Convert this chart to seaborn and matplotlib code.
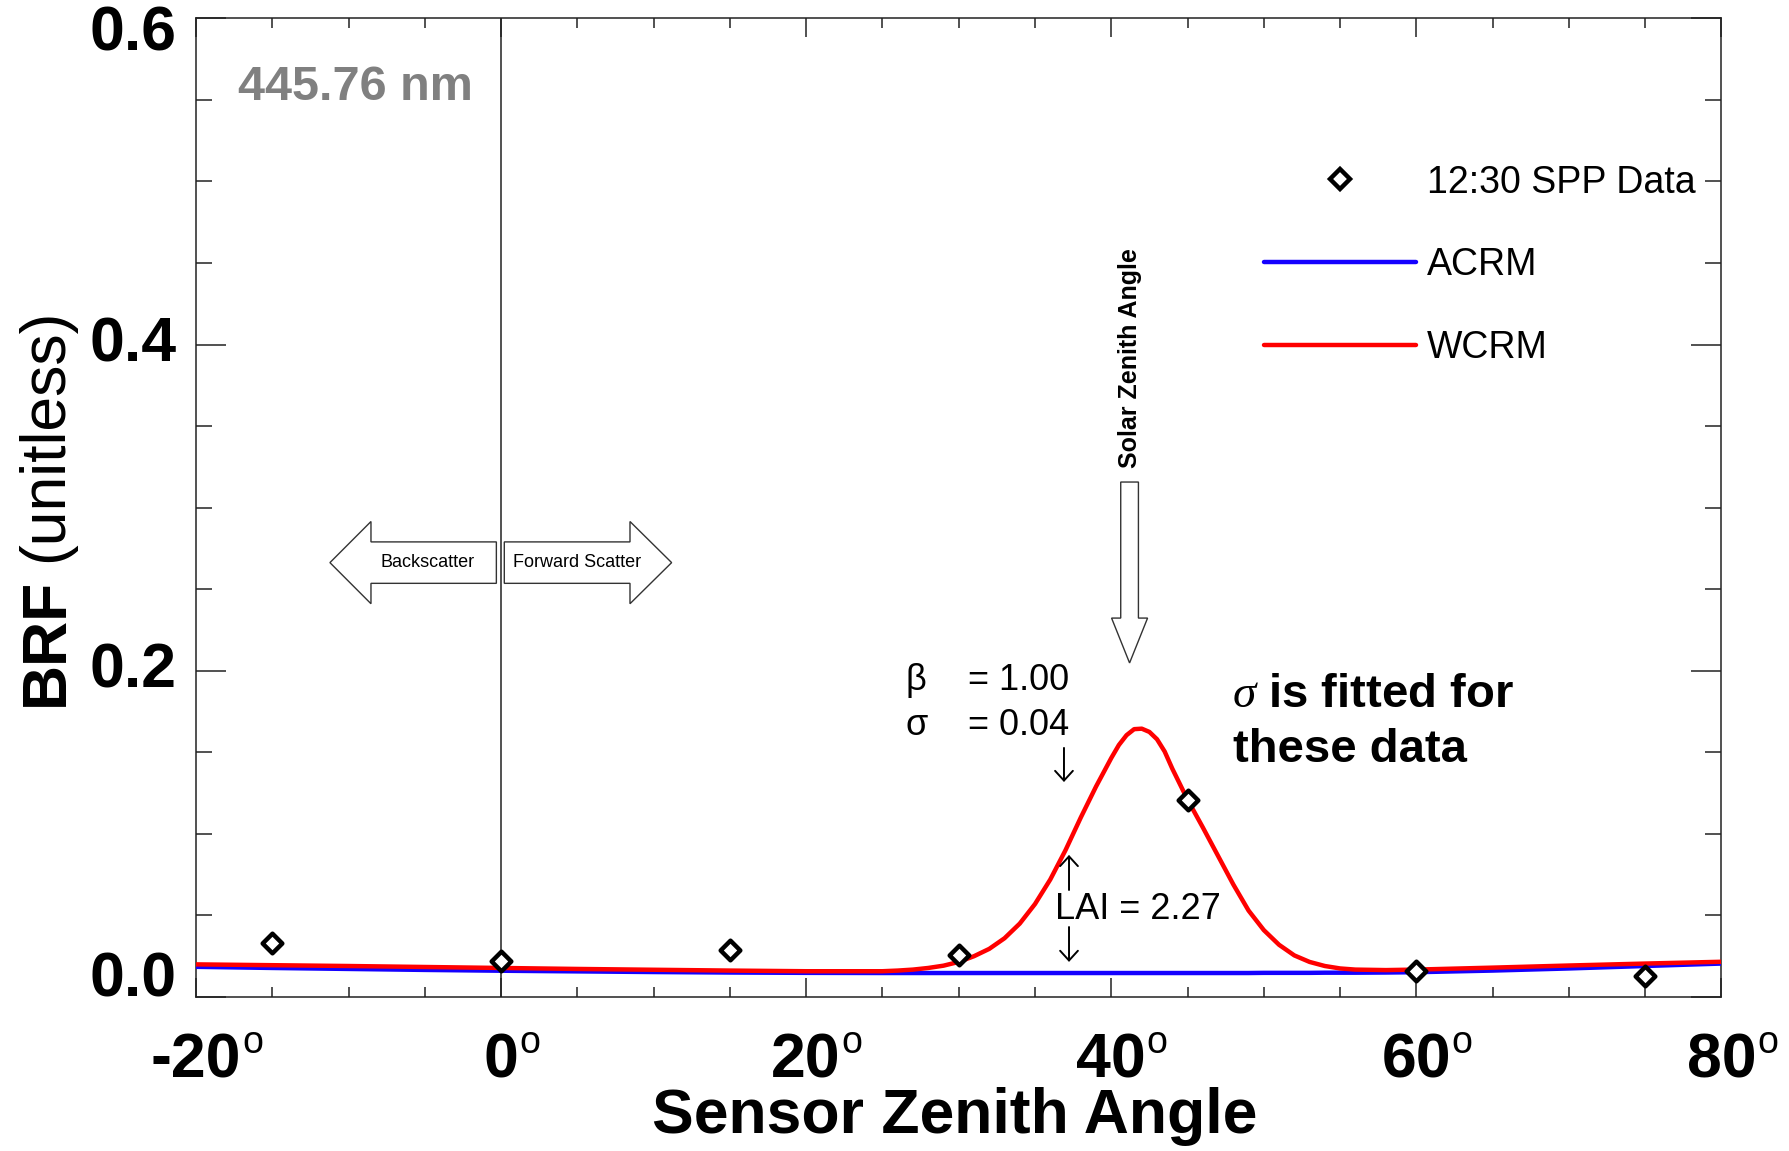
import matplotlib
matplotlib.use("Agg")
import matplotlib.pyplot as plt
from matplotlib.patches import Polygon
from matplotlib.lines import Line2D
from matplotlib.ticker import MultipleLocator
import pandas as pd
import seaborn as sns

# ---- data -------------------------------------------------------------
# 12:30 SPP observations (sensor zenith angle in degrees, BRF)
spp_angle = [-15, 0, 15, 30, 45, 60, 75]
spp_brf = [0.0333, 0.0220, 0.0288, 0.0257, 0.1207, 0.0161, 0.0129]

# Modelled BRF along the principal plane
model_angle = [-20, -15, -10, -5, 0, 5, 10, 15, 20, 25,
               26, 27, 28, 29, 30, 31, 32, 33, 34, 35,
               36, 37, 38, 39, 40, 40.5, 41, 41.5, 42, 42.5,
               43, 43.5, 44, 45, 46, 47, 48, 49, 50, 51,
               52, 53, 54, 55, 56, 58, 60, 65, 70, 75,
               80]
wcrm_brf = [0.0200, 0.0195, 0.0190, 0.0184, 0.0178, 0.0172, 0.0167, 0.0162, 0.0158, 0.0158,
            0.0162, 0.0168, 0.0178, 0.0192, 0.0215, 0.0250, 0.0295, 0.0360, 0.0450, 0.0570,
            0.0720, 0.0900, 0.1100, 0.1290, 0.1465, 0.1545, 0.1605, 0.1642, 0.1645, 0.1625,
            0.1580, 0.1505, 0.1400, 0.1210, 0.1040, 0.0865, 0.0690, 0.0530, 0.0410, 0.0320,
            0.0255, 0.0215, 0.0190, 0.0175, 0.0168, 0.0165, 0.0168, 0.0180, 0.0193, 0.0205,
            0.0216]
acrm_brf = [0.0185, 0.0178, 0.0172, 0.0166, 0.0161, 0.0157, 0.0153, 0.0150, 0.0148, 0.0147,
            0.0147, 0.0147, 0.0147, 0.0147, 0.0147, 0.0147, 0.0147, 0.0147, 0.0147, 0.0147,
            0.0147, 0.0147, 0.0147, 0.0147, 0.0147, 0.0147, 0.0147, 0.0147, 0.0147, 0.0147,
            0.0147, 0.0147, 0.0147, 0.0147, 0.0147, 0.0147, 0.0147, 0.0147, 0.0148, 0.0148,
            0.0148, 0.0148, 0.0149, 0.0149, 0.0149, 0.0150, 0.0152, 0.0162, 0.0175, 0.0190,
            0.0205]

legend_labels = ["12:30 SPP Data", "ACRM", "WCRM"]
x_tick_values = [-20, 0, 20, 40, 60, 80]
x_tick_labels = ["-20", "0", "20", "40", "60", "80"]
y_tick_values = [0.0, 0.2, 0.4, 0.6]
y_tick_labels = ["0.0", "0.2", "0.4", "0.6"]

BLUE = "#1400ff"
RED = "#ff0000"
INK = "#222222"

# ---- style ------------------------------------------------------------
sns.set_theme(style="ticks")
plt.rcParams["font.family"] = ["Liberation Sans", "DejaVu Sans"]
plt.rcParams["mathtext.fontset"] = "custom"
plt.rcParams["mathtext.rm"] = "Liberation Sans"
plt.rcParams["mathtext.it"] = "Liberation Serif:italic"
plt.rcParams["text.color"] = "black"

fig = plt.figure(figsize=(17.9, 11.51), dpi=100)
ax = fig.add_axes([0.1095, 0.1338, 0.8522, 0.8503])

# ---- curves and observations -----------------------------------------
models = pd.DataFrame({
    "angle": model_angle * 2,
    "brf": acrm_brf + wcrm_brf,
    "model": ["ACRM"] * len(model_angle) + ["WCRM"] * len(model_angle),
})
sns.lineplot(data=models, x="angle", y="brf", hue="model",
             palette={"ACRM": BLUE, "WCRM": RED}, linewidth=3.2,
             legend=False, ax=ax, zorder=3)
sns.scatterplot(x=spp_angle, y=spp_brf, marker="D", s=100, color="white",
                edgecolor="black", linewidth=3.2, ax=ax, zorder=5, legend=False)

ax.axvline(0, color=INK, lw=1.1, zorder=1)

ax.set_xlim(-20, 80)
ax.set_ylim(0, 0.6)
ax.set_xlabel("")
ax.set_ylabel("")

for sp in ax.spines.values():
    sp.set_visible(True)
    sp.set_linewidth(1.1)
    sp.set_color(INK)

ax.xaxis.set_major_locator(MultipleLocator(20))
ax.xaxis.set_minor_locator(MultipleLocator(5))
ax.yaxis.set_major_locator(MultipleLocator(0.2))
ax.yaxis.set_minor_locator(MultipleLocator(0.05))
ax.tick_params(which="both", direction="in", top=True, right=True,
               labelbottom=False, labelleft=False, width=1.1, color=INK)
ax.tick_params(axis="x", which="major", length=14)
ax.tick_params(axis="x", which="minor", length=7.2)
ax.tick_params(axis="y", which="major", length=21.6)
ax.tick_params(axis="y", which="minor", length=11.5)

# tick labels: bold numbers, degree shown as a raised "o"
for v, lab in zip(x_tick_values, x_tick_labels):
    num = ax.annotate(lab, xy=(v, 0), xycoords=("data", "axes fraction"),
                      xytext=(0, -24.5), textcoords="offset points",
                      ha="center", va="top", fontsize=45, fontweight="bold",
                      annotation_clip=False)
    ax.annotate("o", xy=(1, 1), xycoords=num, xytext=(0.5, 4.5),
                textcoords="offset points", ha="left", va="top", fontsize=27,
                annotation_clip=False)

for v, lab in zip(y_tick_values, y_tick_labels):
    shift = 0.0
    if v == min(y_tick_values):
        shift = 12.2
    elif v == max(y_tick_values):
        shift = -11.4
    ax.annotate(lab, xy=(0, v), xycoords=("axes fraction", "data"),
                xytext=(-13.7, shift), textcoords="offset points",
                ha="right", va="center", fontsize=45, fontweight="bold",
                annotation_clip=False)

# axis titles
fig.text(0.5335, 0.0304, "Sensor Zenith Angle", ha="center", va="center",
         fontsize=45, fontweight="bold")
brf = fig.text(0.0257, (1151 - 705.5) / 1151, "BRF", rotation=90,
               ha="center", va="bottom", fontsize=45, fontweight="bold")
ax.annotate("(unitless)", xy=(0.5, 1), xycoords=brf, xytext=(0, 11),
            textcoords="offset points", rotation=90, ha="center", va="bottom",
            fontsize=45, annotation_clip=False)

# wavelength tag
ax.text(0.0275, 0.9288, "445.76 nm", transform=ax.transAxes, ha="left",
        va="center", fontsize=35, fontweight="bold", color="#808080")

# ---- legend -----------------------------------------------------------
handles = [
    Line2D([], [], ls="none", marker="D", ms=10, mfc="white", mec="black", mew=3.2),
    Line2D([], [], color=BLUE, lw=3.2),
    Line2D([], [], color=RED, lw=3.2),
]
ax.legend(handles, legend_labels, loc="upper left", bbox_to_anchor=(0.700, 0.8506),
          frameon=False, fontsize=27, handlelength=4.05, handletextpad=0.3,
          labelspacing=1.25, borderpad=0, borderaxespad=0)


# ---- scattering direction arrows --------------------------------------
def block_arrow(ax, start, end, center, body_half, head_half, head_len, vertical=False):
    """Hollow block arrow from `start` to `end` along one axis."""
    s = 1 if end > start else -1
    neck = end - s * head_len
    pts = [(start, center - body_half), (neck, center - body_half),
           (neck, center - head_half), (end, center),
           (neck, center + head_half), (neck, center + body_half),
           (start, center + body_half)]
    if vertical:
        pts = [(c, a) for a, c in pts]
    ax.add_patch(Polygon(pts, closed=True, facecolor="white", edgecolor="#333333",
                         lw=1.0, zorder=4))


block_arrow(ax, -0.31, -11.22, 0.2663, 0.0127, 0.0252, 2.69)
block_arrow(ax, 0.21, 11.18, 0.2663, 0.0127, 0.0252, 2.73)
ax.text(-4.79, 0.2663, "Backscatter", ha="center", va="center", fontsize=13, zorder=6)
ax.text(5.01, 0.2663, "Forward Scatter", ha="center", va="center", fontsize=13, zorder=6)

block_arrow(ax, 0.3157, 0.2048, 41.2, 0.58, 1.18, 0.0275, vertical=True)
ax.text(41.2, 0.3918, "Solar Zenith Angle", rotation=90, ha="center", va="center",
        fontsize=18, fontweight="bold")

# ---- parameter annotations --------------------------------------------
ax.text(26.48, 0.1882, "β", ha="left", va="baseline", fontsize=26)
ax.text(30.6, 0.1882, "= 1.00", ha="left", va="baseline", fontsize=26)
ax.text(26.48, 0.1606, "σ", ha="left", va="baseline", fontsize=26)
ax.text(30.6, 0.1606, "= 0.04", ha="left", va="baseline", fontsize=26)
ax.text(36.31, 0.0480, "LAI = 2.27", ha="left", va="baseline", fontsize=26)


def thin_arrow(ax, x, y_from, y_to):
    """Thin open-headed pointer arrow."""
    ax.annotate("", xy=(x, y_to), xytext=(x, y_from),
                arrowprops=dict(arrowstyle="->,head_length=0.35,head_width=0.32",
                                mutation_scale=20, lw=1.4, color="black",
                                shrinkA=0, shrinkB=0), zorder=6)


thin_arrow(ax, 36.9, 0.1527, 0.1318)
thin_arrow(ax, 37.23, 0.0656, 0.0871)
thin_arrow(ax, 37.23, 0.0429, 0.0215)

ax.text(47.91, 0.1775, r"$\sigma$ is fitted for", ha="left", va="baseline",
        fontsize=34, fontweight="bold")
ax.text(47.95, 0.1440, "these data", ha="left", va="baseline",
        fontsize=34, fontweight="bold")

fig.savefig("out.png", dpi=100)
